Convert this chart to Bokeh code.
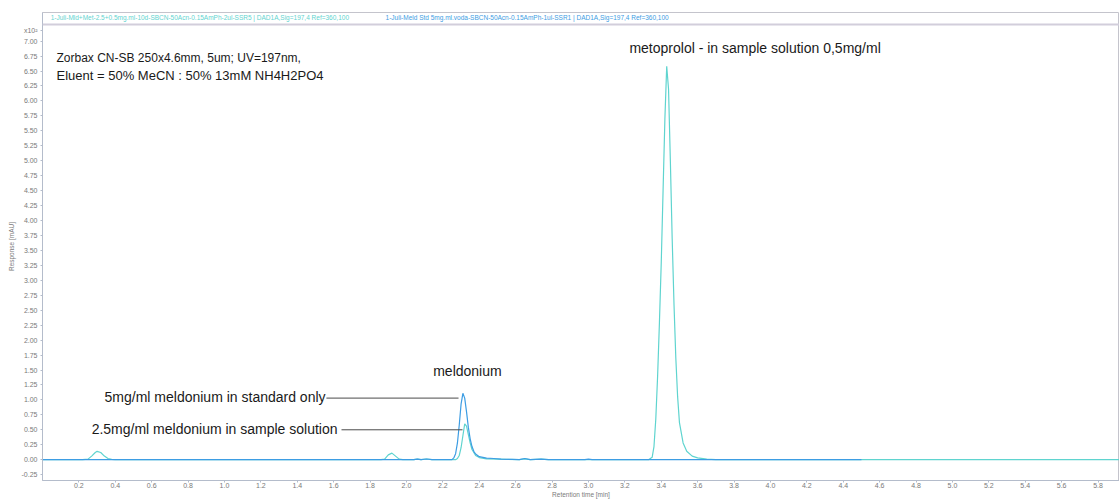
from bokeh.plotting import figure
from bokeh.models import Label, Span, FixedTicker, Range1d, PrintfTickFormatter
from bokeh.embed import file_html
from bokeh.resources import INLINE

# ---- data (retention time [min], response [x10^2 mAU]) ----
sample_t = [0.00, 0.22, 0.25, 0.27, 0.29, 0.30, 0.32, 0.34, 0.36, 0.38, 0.40,
            1.86, 1.88, 1.90, 1.92, 1.94, 1.96, 1.98,
            2.04, 2.06, 2.08, 2.11, 2.14,
            2.27, 2.28, 2.29, 2.30, 2.31, 2.32, 2.33, 2.34, 2.35, 2.36, 2.38, 2.40,
            2.44, 2.50, 2.55, 2.62, 2.65, 2.68, 2.74, 2.78,
            3.33, 3.35, 3.36, 3.37, 3.38, 3.39, 3.40, 3.41, 3.42, 3.43, 3.44, 3.45,
            3.46, 3.47, 3.48, 3.49, 3.50, 3.52, 3.54, 3.57, 3.60, 3.65, 3.70, 5.95]
sample_r = [0.00, 0.00, 0.01, 0.06, 0.12, 0.14, 0.12, 0.06, 0.02, 0.005, 0.00,
            0.00, 0.01, 0.08, 0.11, 0.06, 0.01, 0.00,
            0.00, 0.01, 0.00, 0.012, 0.00,
            0.00, 0.02, 0.07, 0.20, 0.40, 0.60, 0.56, 0.42, 0.28, 0.17, 0.07, 0.035,
            0.015, 0.01, 0.005, 0.00, 0.015, 0.00, 0.01, 0.00,
            0.00, 0.04, 0.22, 0.68, 1.40, 2.30, 3.30, 4.50, 5.70, 6.58, 6.20, 5.00,
            3.70, 2.60, 1.70, 1.05, 0.62, 0.28, 0.14, 0.06, 0.03, 0.01, 0.00, 0.00]

std_t = [0.00, 2.04, 2.06, 2.08, 2.11, 2.14,
         2.25, 2.26, 2.27, 2.28, 2.29, 2.30, 2.31, 2.32, 2.33, 2.34, 2.35, 2.36,
         2.37, 2.38, 2.40, 2.44, 2.48, 2.52, 2.58, 2.62, 2.65, 2.68, 2.74, 2.78,
         2.98, 3.00, 3.02, 4.50]
std_r = [0.00, 0.00, 0.01, 0.00, 0.012, 0.00,
         0.00, 0.03, 0.10, 0.28, 0.58, 0.93, 1.11, 1.03, 0.80, 0.54, 0.35, 0.22,
         0.14, 0.095, 0.05, 0.025, 0.02, 0.01, 0.005, 0.00, 0.02, 0.00, 0.01, 0.00,
         0.00, 0.01, 0.00, 0.00]

x_ticks = [0.2, 0.4, 0.6, 0.8, 1.0, 1.2, 1.4, 1.6, 1.8, 2.0, 2.2, 2.4, 2.6, 2.8,
           3.0, 3.2, 3.4, 3.6, 3.8, 4.0, 4.2, 4.4, 4.6, 4.8, 5.0, 5.2, 5.4, 5.6, 5.8]
y_ticks = [-0.25, 0.00, 0.25, 0.50, 0.75, 1.00, 1.25, 1.50, 1.75, 2.00, 2.25, 2.50,
           2.75, 3.00, 3.25, 3.50, 3.75, 4.00, 4.25, 4.50, 4.75, 5.00, 5.25, 5.50,
           5.75, 6.00, 6.25, 6.50, 6.75, 7.00]
exp_tick = 7.18
exp_label = "x10²"

sample_name = "1-Juli-Mld+Met-2.5+0.5mg.ml-10d-SBCN-50Acn-0.15AmPh-2ul-SSR5 | DAD1A,Sig=197,4 Ref=360,100"
std_name = "1-Juli-Meld Std 5mg.ml.voda-SBCN-50Acn-0.15AmPh-1ul-SSR1 | DAD1A,Sig=197,4 Ref=360,100"

CYAN = "#5fd4cf"
BLUE = "#3d9de3"
FONT = "Liberation Sans"
GREY = "#7a7a7a"

p = figure(width=1119, height=500, output_backend="svg", toolbar_location=None,
           x_range=Range1d(0, 5.918), y_range=Range1d(-0.348, 7.479),
           min_border_left=42, min_border_right=0, min_border_top=12, min_border_bottom=16)
p.grid.visible = False
p.outline_line_color = "#c4c4cc"
p.background_fill_color = "white"

for ax in (p.xaxis[0], p.yaxis[0]):
    ax.axis_line_color = "#b4bccb"
    ax.major_tick_line_color = "#b4bccb"
    ax.minor_tick_line_color = None
    ax.major_tick_out = 2
    ax.major_tick_in = 0
    ax.major_label_text_font = FONT
    ax.major_label_text_font_size = "7px"
    ax.major_label_text_color = GREY
    ax.axis_label_text_font = FONT
    ax.axis_label_text_font_size = "6.5px"
    ax.axis_label_text_color = GREY
    ax.axis_label_text_font_style = "normal"

p.xaxis.ticker = FixedTicker(ticks=x_ticks)
p.yaxis.ticker = FixedTicker(ticks=y_ticks + [exp_tick])
p.xaxis.formatter = PrintfTickFormatter(format="%.1f")
p.yaxis.formatter = PrintfTickFormatter(format="%.2f")
p.yaxis.major_label_overrides = {exp_tick: exp_label}
p.xaxis.major_label_standoff = 0
p.yaxis.major_label_standoff = 3
p.xaxis.axis_label = "Retention time [min]"
p.yaxis.axis_label = "Response [mAU]"
p.xaxis.axis_label_standoff = 0
p.yaxis.axis_label_standoff = 4

# legend strip
p.add_layout(Span(location=7.28, dimension="width", line_color="#d2cedb", line_width=2))
p.add_layout(Label(x=0.045, y=7.388, text=sample_name, text_font=FONT, text_font_size="6.5px",
                   text_color=CYAN, text_baseline="middle"))
p.add_layout(Label(x=1.885, y=7.388, text=std_name, text_font=FONT, text_font_size="6.5px",
                   text_color=BLUE, text_baseline="middle"))

# traces
p.line(sample_t, sample_r, line_color=CYAN, line_width=1.2)
p.line(std_t, std_r, line_color=BLUE, line_width=1.2)

# annotations
ann_x0 = [1.56, 1.643]
ann_x1 = [2.286, 2.308]
ann_y = [1.03, 0.50]
p.segment(x0=ann_x0, y0=ann_y, x1=ann_x1, y1=ann_y, line_color="#4a4a4a", line_width=1)

def txt(x, y, s, size="14px", align="left"):
    p.add_layout(Label(x=x, y=y, text=s, text_font=FONT, text_font_size=size,
                       text_color="#1a1a1a", text_baseline="middle", text_align=align))

txt(0.077, 6.716, "Zorbax CN-SB 250x4.6mm, 5um; UV=197nm,", size="12px")
txt(0.077, 6.418, "Eluent = 50% MeCN : 50% 13mM NH4H2PO4", size="13px")
txt(3.225, 6.882, "metoprolol - in sample solution 0,5mg/ml")
txt(2.335, 1.49, "meldonium", align="center")
txt(0.341, 1.045, "5mg/ml meldonium in standard only")
txt(0.270, 0.514, "2.5mg/ml meldonium in sample solution")

open("out.html", "w").write(file_html(p, INLINE))
